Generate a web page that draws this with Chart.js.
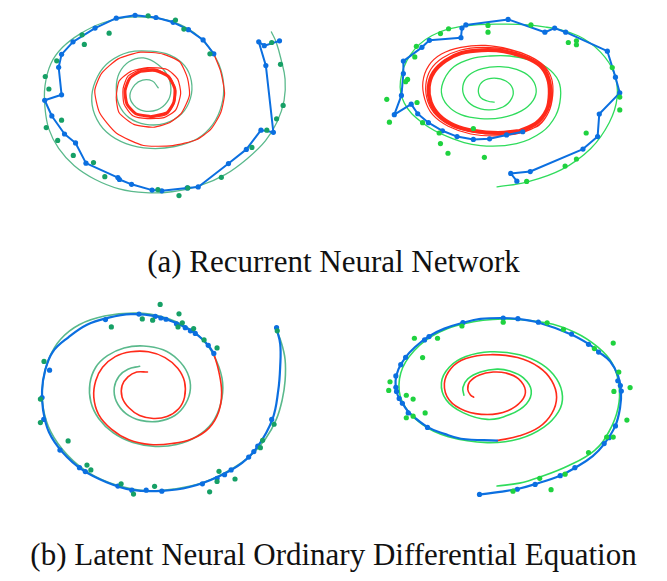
<!DOCTYPE html>
<html>
<head>
<meta charset="utf-8">
<script src="https://cdn.jsdelivr.net/npm/chart.js@4"></script>
<style>
  body { margin: 0; background: #fff; width: 667px; height: 581px; position: relative; overflow: hidden; }
  canvas { position: absolute; }
  .caption { position: absolute; left: 0; width: 667px; text-align: center; font-family: "Liberation Serif", "Times New Roman", serif; font-size: 31px; line-height: 31px; color: #111; }
</style>
</head>
<body>
<canvas id="rnnGauche" width="333" height="215" style="left:0;top:0"></canvas>
<canvas id="rnnDroite" width="334" height="215" style="left:333px;top:0"></canvas>
<div class="caption" style="top:246px">(a) Recurrent Neural Network</div>
<canvas id="odeGauche" width="333" height="235" style="left:0;top:285px"></canvas>
<canvas id="odeDroite" width="334" height="235" style="left:333px;top:285px"></canvas>
<div class="caption" style="top:539px">(b) Latent Neural Ordinary Differential Equation</div>
<script>

// (a) gauche
const verite1 = [[158,87],[152,80],[142,79],[134,84],[129,95],[133,105],[143,111],[157,110],[167,102],[171,90],[168,75],[158,63],[143,56],[128,60],[118,72],[115,88],[118,105],[128,118],[145,125],[165,124],[182,114],[191,98],[192,80],[185,64],[170,53],[150,49],[128,50],[108,60],[96,75],[90,95],[93,115],[105,133],[125,145],[150,150],[175,148],[198,140],[214,125],[223,105],[225,83],[220,62],[210,45],[195,30],[175,19],[150,14],[125,14],[100,20],[78,31],[60,45],[48,62],[42,85],[42,108],[46,130],[56,150],[72,168],[93,182],[118,192],[145,196],[172,195],[200,189],[227,177],[250,160],[268,142],[280,122],[287,100],[288,78],[284,58],[279,40],[274,29]]
const observ1 = [[147.7,12.3],[175.7,16.7],[184.3,26],[107.7,30.3],[80,32],[82.3,42],[54,59],[42.3,75.3],[46,88.3],[59,120.7],[43.3,128.3],[55,141.7],[71,157.3],[91.7,164.7],[103.3,179.3],[157.7,192.7],[179.3,199],[188.3,191],[222.7,180],[254,149],[269.3,131],[279.3,119.3],[286,105.3],[283.3,62.7],[274.3,40],[211,51.7]]
const predit1 = [[282.3,38.3],[266.7,43.3],[261,39.3],[268.3,64],[276,133.3],[263.3,131],[248.3,151],[230,165.7],[199,190],[187.7,191],[161.7,194],[151.7,193.3],[130.7,187.3],[118.3,182.3],[116.7,180.3],[84,165.3],[73.3,144.3],[62,135],[49,116.3],[41.7,100],[59,94.3],[56,65.7],[59,52.3],[70.7,39.3],[93.3,25],[115,14.7],[134.3,11.7],[155.7,14],[173.3,19],[189,26.7],[204,37.3],[215,51.7]]
const extrap1 = [[215,52],[222,70],[226,93],[222,113],[212,130],[197,141],[173,147],[143,147],[115,134],[98,113],[93,90],[100,72],[117,57],[140,50],[163,52],[180,60],[188,77],[190,95],[182,113],[170,123],[153,128],[133,125],[118,113],[115,97],[118,80],[130,70],[147,66],[167,68],[178,78],[181,93],[176,110],[164,118],[147,119],[132,116],[123,104],[122,88],[127,75],[140,68],[157,68],[170,76],[176,90],[174,104],[166,115],[150,118]]
const cycle1 = [[150,117],[135,114],[126,104],[124,90],[129,77],[140,70],[155,69],[168,75],[175,88],[174,102],[167,113],[150,117]]

// (a) droite
const verite2 = [[497,190],[527,185],[563,172],[593,150],[612,123],[620,97],[617,72],[603,50],[580,33],[547,24],[507,21],[463,23],[430,33],[408,53],[398,80],[402,103],[420,123],[447,138],[480,147],[517,145],[543,133],[557,116],[562,97],[560,80],[548,66],[530,58],[510,54],[490,54],[470,57],[453,65],[443,78],[440,92],[446,105],[460,115],[480,119],[502,118],[522,111],[534,100],[537,88],[531,76],[517,68],[500,65],[482,67],[468,74],[462,85],[464,97],[473,106],[488,110],[503,107],[512,98],[513,88],[506,80],[494,77],[483,80],[478,88],[480,97],[488,101],[494,102]]
const observ2 = [[447.3,25.7],[439,30.7],[487.7,22.3],[487.7,29.3],[531.7,21.7],[570,40],[578.3,38.3],[578.3,42.3],[414.3,44],[412.7,55],[405.3,78.3],[403.3,80.7],[384,99],[386.7,122.7],[415,102.3],[420.7,123.3],[437.7,134],[439,145],[446.7,155],[472.7,129.3],[484,159.3],[588.3,134],[615,66],[622.7,96.7],[622.7,110],[578.3,161],[566.7,168.3],[527.3,184.3]]
const predit2 = [[517.3,184],[511,176],[531,174],[585,150.7],[600,137.7],[601.7,114.3],[622.7,92.3],[618.3,76],[610,49],[567.3,29.3],[556,25],[546,29.3],[508.3,16],[465,21.7],[461,25],[460,35],[427.7,37.7],[420,45],[401,59.3],[401,72.3],[399,95],[391.7,115],[409,104],[415.7,114],[426.7,123.3],[441,131.7],[456,137.7],[472.7,140.7],[489.3,140],[506.7,136],[523.3,132.7]]
const extrap2 = [[523,133],[540,126],[550,112],[554,95],[553,78],[545,64],[530,54],[510,47],[485,43],[460,45],[440,52],[427,64],[421,81],[423,99],[431,115],[447,127],[470,135],[497,137],[521,134],[539,126],[550,112],[553,94],[551,77],[543,63],[527,53],[506,47],[482,45],[459,48],[441,56],[429,68],[424,84],[426,101],[435,116],[451,127],[473,133],[498,135],[521,132],[538,124],[549,110],[552,93]]
const cycle2 = [[520,132],[537,124],[548,110],[551,93],[549,77],[541,64],[525,55],[504,49],[481,48],[460,51],[444,59],[432,71],[427,86],[429,102],[438,116],[453,126],[474,132],[498,134],[520,132]]

// (b) gauche
const verite3 = [[278,325],[284,340],[288,358],[288,380],[285,400],[279,420],[268,440],[252,458],[232,472],[205,485],[175,492],[145,494],[115,488],[88,476],[65,457],[48,433],[40,407],[40,380],[46,357],[58,337],[77,322],[103,313],[135,310],[163,314],[188,325],[206,340],[218,360],[224,382],[222,404],[213,424],[197,438],[177,446],[155,448],[132,444],[112,434],[97,419],[89,402],[88,383],[94,366],[106,354],[123,346],[143,344],[163,348],[178,358],[188,372],[191,388],[186,404],[175,416],[158,422],[140,421],[125,414],[115,401],[113,387],[118,375],[127,368],[139,365]]
const observ3 = [[160,301],[179.3,310.7],[182.7,320],[194.3,326],[178.3,324.3],[152.3,317.3],[141.7,316],[110,324.3],[41,360],[37.3,399],[37.3,423.3],[65.7,442.3],[85,467.3],[89,472.3],[120,486.7],[132.7,497.3],[154.3,489.3],[210.7,495],[218.3,484.3],[220.3,473.7],[236.7,481.7],[262.7,449.3],[265,441.7],[276.7,425],[280,328.3],[218.3,346],[205,337.7]]
const predit3 = [[279,325],[283,342],[283,365],[281,390],[275,420],[260,448],[244,465],[220,479],[190,490],[162,494],[131,493],[105,485],[80,472],[60,454],[46,433],[40,410],[39,390],[42,370],[50,350],[66,335],[85,322],[106,315],[130,311],[155,313],[176,320],[196,331],[209,343],[215,352]]
const points3 = [[279.3,325],[274.3,420],[260,447.7],[256,453.3],[250.7,459],[232.7,472.3],[226,477.3],[218.3,481],[203.3,486.7],[161.7,494.3],[145.7,493.3],[131,493.3],[116.7,489],[83.3,474],[77.3,470],[57.3,451.7],[40.7,420],[39,397.3],[46.7,369],[104,316.7],[138.3,311],[155,313.3],[160.7,315],[166,316.3],[176.7,321],[185.7,325],[191,328.3],[196,331],[209.3,343.3],[215,351.7]]
const extrap3 = [[215,352],[220,370],[223,392],[220,412],[210,429],[193,440],[172,445],[150,446],[128,441],[110,430],[97,415],[92,397],[94,380],[101,366],[114,355],[130,350],[148,350],[165,356],[178,367],[185,381],[185,397],[179,409],[167,417],[153,419],[139,416],[128,408],[121,397],[121,385],[127,376],[136,371],[147,371]]

// (b) droite
const verite4 = [[497,489],[520,486],[540,480],[570,468],[597,452],[612,432],[621,408],[622,385],[615,362],[600,345],[577,330],[547,320],[503,316],[463,321],[430,334],[407,355],[397,378],[400,402],[420,425],[447,438],[487,444],[520,440],[545,428],[560,412],[564,396],[558,378],[543,363],[520,353],[490,350],[465,355],[448,366],[440,382],[445,400],[462,413],[487,420],[510,415],[527,404],[532,390],[524,377],[510,370],[497,368],[480,371],[467,378],[462,387],[463,395]]
const observ4 = [[412.3,336],[436,336],[420.7,356],[461,323.3],[503.3,319.3],[548.3,320],[565,326.7],[596.7,346.7],[616,341],[621.7,371],[633.3,387],[616.7,391],[630,420.7],[616,438.3],[609.3,438.3],[590.7,454.3],[566.7,476.7],[540.7,481],[552.3,492.7],[513.3,494.3],[387.3,381],[386,390],[404,395],[411,399],[423.3,413.3],[404,418.3],[411,416.7]]
const predit4 = [[479,498],[500,495],[518,492],[536,487],[562,478],[577,470],[595,458],[607,445],[618,427],[623,408],[624,391],[621,375],[613,360],[601,350],[591,342],[573,332],[540,320],[518,316],[503,315],[480,316],[462,320],[443,326],[427,334],[413,345],[403,356],[396,368],[393,380],[394,391],[397,399],[401,405],[408,414],[426,428],[443,435],[460,440],[497,442]]
const points4 = [[479,497.7],[517.7,492.3],[536,487.3],[561.7,478.3],[576.7,470],[606.7,445],[611.7,439],[618.3,426.7],[624.3,390.7],[623.3,385],[620.7,380],[601,350.3],[590.7,342.3],[573.3,331.7],[539.3,319.3],[518.3,315.7],[503.3,315],[462,319.7],[427.3,334.3],[422.7,337.7],[403.3,355.7],[398.3,363.3],[393.3,375],[393.3,386.7],[394,391],[396.7,398.3],[400,403.3],[406,413.3],[425.7,428.3]]
const extrap4 = [[497,442],[520,437],[540,428],[553,414],[558,397],[553,380],[540,366],[518,356],[490,353],[465,357],[450,367],[443,383],[448,400],[464,411],[487,415],[508,411],[522,401],[526,390],[519,378],[506,372],[493,371],[479,374],[469,381],[467,389],[470,395],[473,397]]

const bleu = "#0b6fe0"
const rouge = "#ff2a1a"
const vertSombre = "#16a066"
const vertClair = "#1fd23f"
const vertLigneSombre = "#5ab98c"
const vertLigneClair = "#2fdc5c"

function pts(liste) {
    return liste.map(p => ({x: p[0], y: p[1]}))
}

function ligne(data, couleur, largeur, tension, ordre) {
    return {data: pts(data), showLine: true, borderColor: couleur, borderWidth: largeur, tension: tension,
        pointRadius: 0, fill: false, order: ordre, borderCapStyle: "round", borderJoinStyle: "round"}
}

function nuage(data, couleur, rayon, ordre) {
    return {data: pts(data), showLine: false, backgroundColor: couleur, borderColor: couleur,
        pointRadius: rayon, pointBorderWidth: 0, order: ordre}
}

function creerPanneau(nomCanvas, xmin, xmax, ymin, ymax, datasets) {
    new Chart(document.getElementById(nomCanvas), {
        type: "scatter",
        data: {datasets: datasets},
        options: {
            responsive: false,
            animation: false,
            layout: {padding: 0},
            plugins: {legend: {display: false}, tooltip: {enabled: false}},
            scales: {
                x: {type: "linear", min: xmin, max: xmax, display: false},
                y: {type: "linear", min: ymin, max: ymax, reverse: true, display: false}
            }
        }
    })
}

creerPanneau("rnnGauche", 0, 333, 0, 215, [
    nuage(observ1, vertSombre, 2.6, 1),
    {...ligne(predit1, bleu, 2, 0, 3), pointRadius: 2.6, pointBackgroundColor: bleu, pointBorderWidth: 0},
    ligne(extrap1, rouge, 1.2, 0.2, 4),
    ligne(cycle1, rouge, 3, 0.2, 4),
    ligne(verite1, vertLigneSombre, 1.3, 0.4, 5)
])

creerPanneau("rnnDroite", 333, 667, 0, 215, [
    nuage(observ2, vertClair, 2.6, 1),
    {...ligne(predit2, bleu, 2, 0, 3), pointRadius: 2.6, pointBackgroundColor: bleu, pointBorderWidth: 0},
    ligne(extrap2, rouge, 1.2, 0.3, 4),
    ligne(cycle2, rouge, 4, 0.3, 4),
    ligne(verite2, vertLigneClair, 1.3, 0.4, 5)
])

creerPanneau("odeGauche", 0, 333, 285, 520, [
    nuage(observ3, vertSombre, 2.6, 1),
    nuage(points3, bleu, 2.6, 2),
    ligne(predit3, bleu, 2.2, 0.4, 3),
    ligne(extrap3, rouge, 1.6, 0.4, 4),
    ligne(verite3, vertLigneSombre, 1.6, 0.4, 5)
])

creerPanneau("odeDroite", 333, 667, 285, 520, [
    nuage(observ4, vertClair, 2.6, 1),
    nuage(points4, bleu, 2.6, 2),
    ligne(predit4, bleu, 2.2, 0.4, 3),
    ligne(extrap4, rouge, 1.6, 0.4, 4),
    ligne(verite4, vertLigneClair, 1.6, 0.4, 5)
])
</script>
</body>
</html>
